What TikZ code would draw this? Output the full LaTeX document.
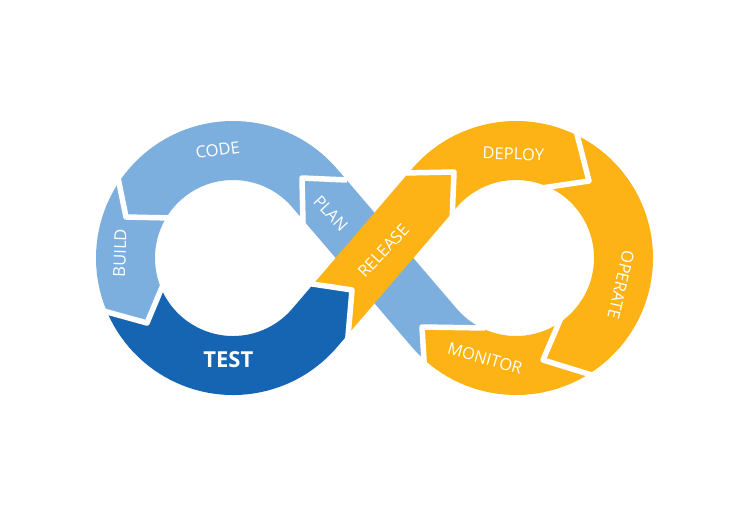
\documentclass[tikz,border=0pt]{standalone}
\usepackage{fontspec}
\setmainfont{Open Sans}
\usetikzlibrary{calc}
\definecolor{lblue}{RGB}{125,175,222}
\definecolor{dblue}{RGB}{21,101,179}
\definecolor{orng}{RGB}{253,179,22}
\begin{document}
\begin{tikzpicture}[x=1pt,y=1pt,
  band/.style={line width=59pt},
  gapline/.style={white, line width=5.5pt, line join=round},
  lbl/.style={text=white, inner sep=0pt, font=\fontsize{16.5}{16.5}\selectfont}]
\useasboundingbox (0,0) rectangle (735,515);
\def\bandr{107.5}
\coordinate (C1) at (233,257);
\coordinate (C2) at (516,257);
\coordinate (T1u) at ([shift={(40.56:\bandr)}]C1);
\coordinate (T1d) at ([shift={(-40.56:\bandr)}]C1);
\coordinate (T2u) at ([shift={(139.44:\bandr)}]C2);
\coordinate (T2d) at ([shift={(-139.44:\bandr)}]C2);
% chevron points
\coordinate (mpO) at (425,138);   \coordinate (mpV) at (422,188);   \coordinate (mpI) at (485,187);
\coordinate (pcO) at (347,335);   \coordinate (pcV) at (302,337);   \coordinate (pcI) at (303,292);
\coordinate (cbO) at (117,342);   \coordinate (cbV) at (126,298);   \coordinate (cbI) at (171,297);
\coordinate (btO) at (103.6,204); \coordinate (btV) at (147,192);   \coordinate (btI) at (164.4,233.5);
\coordinate (trI) at (309,231.5); \coordinate (trV) at (352,225);   \coordinate (trO) at (347.7,175.2);
\coordinate (rdO) at (404,342);   \coordinate (rdV) at (454,343);   \coordinate (rdI) at (452,293);
\coordinate (doO) at (576.5,382.5); \coordinate (doV) at (589,334); \coordinate (doI) at (539.6,326.7);
\coordinate (omI) at (560.7,196.4); \coordinate (omV) at (543,155); \coordinate (omO) at (595.6,138.8);
% PLAN
\begin{scope}
\clip (mpO) -- (mpV) -- (mpI) -- (pcO) -- (pcV) -- (pcI) -- cycle;
\draw[band, lblue] ([shift={(-110:\bandr)}]C2) arc[start angle=-110, end angle=-139.44, radius=\bandr]
  -- (T1u) arc[start angle=40.56, end angle=53, radius=\bandr];
\end{scope}
% CODE
\begin{scope}
\clip (pcO) -- (pcV) -- (pcI) -- (C1) -- (cbI) -- (cbV) -- (cbO) -- (100,450) -- (350,450) -- cycle;
\draw[band, lblue] ($(T1u)!24pt!(T2d)$) -- (T1u) arc[start angle=40.56, end angle=162, radius=\bandr];
\end{scope}
% BUILD
\begin{scope}
\clip (cbO) -- (cbV) -- (cbI) -- (C1) -- (btI) -- (btV) -- (btO) -- (20,204) -- (20,342) -- cycle;
\draw[band, lblue] ([shift={(137:\bandr)}]C1) arc[start angle=137, end angle=220, radius=\bandr];
\end{scope}
% TEST
\begin{scope}
\clip (btO) -- (btV) -- (btI) -- (C1) -- (trI) -- (trV) -- (trO) -- (360,60) -- (40,60) -- (40,204) -- cycle;
\draw[band, dblue] ([shift={(195:\bandr)}]C1) arc[start angle=195, end angle=319.44, radius=\bandr]
  -- ($(T1d)!58pt!(T2u)$);
\end{scope}
% RELEASE
\begin{scope}
\clip (trO) -- (trV) -- (trI) -- (rdO) -- (rdV) -- (rdI) -- cycle;
\draw[band, orng] ($(T1d)!12pt!(T2u)$) -- (T2u) arc[start angle=139.44, end angle=122, radius=\bandr];
\end{scope}
% DEPLOY
\begin{scope}
\clip (rdO) -- (rdV) -- (rdI) -- (C2) -- (doI) -- (doV) -- (doO) -- (600,470) -- (390,470) -- cycle;
\draw[band, orng] ($(T2u)!14pt!(T1d)$) -- (T2u) arc[start angle=139.44, end angle=43, radius=\bandr];
\end{scope}
% OPERATE
\begin{scope}
\clip (doO) -- (doV) -- (doI) -- (C2) -- (omI) -- (omV) -- (omO) -- (700,100) -- (700,420) -- cycle;
\draw[band, orng] ([shift={(72:\bandr)}]C2) arc[start angle=72, end angle=-78, radius=\bandr];
\end{scope}
% MONITOR
\begin{scope}
\clip (omO) -- (omV) -- (omI) -- (C2) -- (mpI) -- (mpV) -- (mpO) -- (420,40) -- (620,40) -- cycle;
\draw[band, orng] ([shift={(-50:\bandr)}]C2) arc[start angle=-50, end angle=-139.44, radius=\bandr]
  -- ($(T2d)!15pt!(T1u)$);
\end{scope}
% white chevron gaps
\draw[gapline] (mpO) -- (mpV) -- (mpI);
\draw[gapline] (pcO) -- (pcV) -- (pcI);
\draw[gapline] (cbO) -- (cbV) -- (cbI);
\draw[gapline] (btO) -- (btV) -- (btI);
\draw[gapline] (trI) -- (trV) -- (trO);
\draw[gapline] (rdO) -- (rdV) -- (rdI);
\draw[gapline] (doO) -- (doV) -- (doI);
\draw[gapline] (omI) -- (omV) -- (omO);
% labels
\node[lbl, rotate=8] (tcode) at (217.7,365) {CODE};
\node[lbl, rotate=88] (tbuild) at (120,262) {BUILD};
\node[lbl, font=\bfseries\fontsize{22}{22}\selectfont] (ttest) at (228.3,155) {TEST};
\node[lbl, rotate=-47] (tplan) at (330.8,301.7) {PLAN};
\node[lbl, rotate=47] (trelease) at (383.3,264.2) {RELEASE};
\node[lbl, rotate=-2] (tdeploy) at (513.3,361) {DEPLOY};
\node[lbl, rotate=-103] (toperate) at (621,230) {OPERATE};
\node[lbl, rotate=-16] (tmonitor) at (485,156.7) {MONITOR};
\end{tikzpicture}
\end{document}
